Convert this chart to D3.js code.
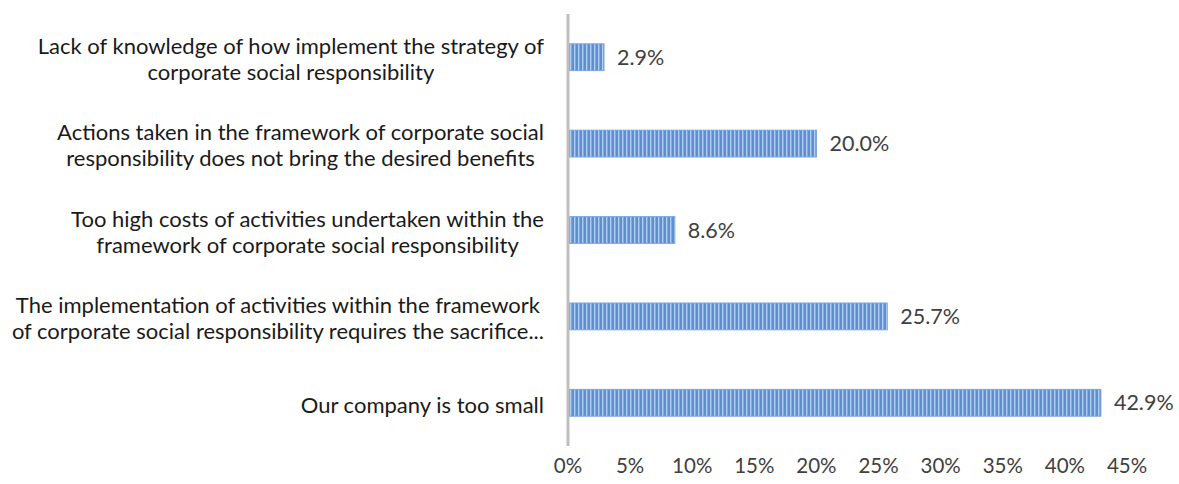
<!DOCTYPE html>
<html><head><meta charset="utf-8">
<script src="https://cdn.jsdelivr.net/npm/d3@7"></script>
<style>body{margin:0;background:#fff}svg{display:block}</style>
</head><body>
<svg id="c" width="1179" height="484"></svg>
<script>
const categories = [
  ["Lack of knowledge of how implement the strategy of","corporate social responsibility"],
  ["Actions taken in the framework of corporate social","responsibility does not bring the desired benefits"],
  ["Too high costs of activities undertaken within the","framework of corporate social responsibility"],
  ["The implementation of activities within the framework","of corporate social responsibility requires the sacrifice..."],
  ["Our company is too small"]
];
const values = [2.9, 20.0, 8.6, 25.7, 42.9];
const tickValues = [0,5,10,15,20,25,30,35,40,45];
const tickLabels = ["0%","5%","10%","15%","20%","25%","30%","35%","40%","45%"];

const svg = d3.select("#c");
const font = "Lato, 'Open Sans', sans-serif";
const x0 = 568, x1 = 1127, yTop = 14, yBot = 446;
const x = d3.scaleLinear().domain([0,45]).range([x0,x1]);
const y = d3.scaleBand().domain(d3.range(categories.length)).range([yTop,yBot]).paddingInner(0.69).paddingOuter(0.345);

const defs = svg.append("defs");
const pat = defs.append("pattern").attr("id","stripe").attr("patternUnits","userSpaceOnUse")
  .attr("width",4).attr("height",10).attr("x",x0);
pat.append("rect").attr("width",4).attr("height",10).attr("fill","#5d8fd2");
pat.append("rect").attr("x",2).attr("width",1.4).attr("height",10).attr("fill","#b3cdee");

svg.append("g").selectAll("rect").data(values).join("rect")
  .attr("x", x(0)+1).attr("y",(d,i)=>y(i))
  .attr("width", d=>x(d)-x(0)-1).attr("height", y.bandwidth())
  .attr("fill","url(#stripe)").attr("stroke","#7aa5dc").attr("stroke-width",1);

// value labels
svg.append("g").selectAll("text").data(values).join("text")
  .attr("x", d=>x(d)+13).attr("y",(d,i)=>y(i)+y.bandwidth()/2)
  .attr("dy","0.35em").attr("font-family",font).attr("font-size",21.5)
  .attr("fill","#404040").text(d=>d.toFixed(1)+"%");

// axis line
svg.append("line").attr("x1",x0).attr("x2",x0).attr("y1",yTop).attr("y2",yBot)
  .attr("stroke","#bfbfbf").attr("stroke-width",3);

// category labels
const right = 544, lh = 26;
categories.forEach((lines,i)=>{
  const g = svg.append("g");
  const cy = y(i)+y.bandwidth()/2 + 2;
  const ts = lines.map((t,j)=> g.append("text").attr("font-family",font).attr("font-size",22)
    .attr("fill","#1a1a1a").attr("text-anchor","middle")
    .attr("y", cy + (j-(lines.length-1)/2)*lh).attr("dy","0.35em").text(t));
  const w = d3.max(ts, t=>t.node().getComputedTextLength());
  ts.forEach(t=>t.attr("x", right - w/2));
});

// x tick labels
svg.append("g").selectAll("text").data(tickValues).join("text")
  .attr("x", d=>x(d)).attr("y",466).attr("dy","0.35em").attr("text-anchor","middle")
  .attr("font-family",font).attr("font-size",20.5).attr("fill","#404040")
  .text((d,i)=>tickLabels[i]);
</script>
</body></html>
